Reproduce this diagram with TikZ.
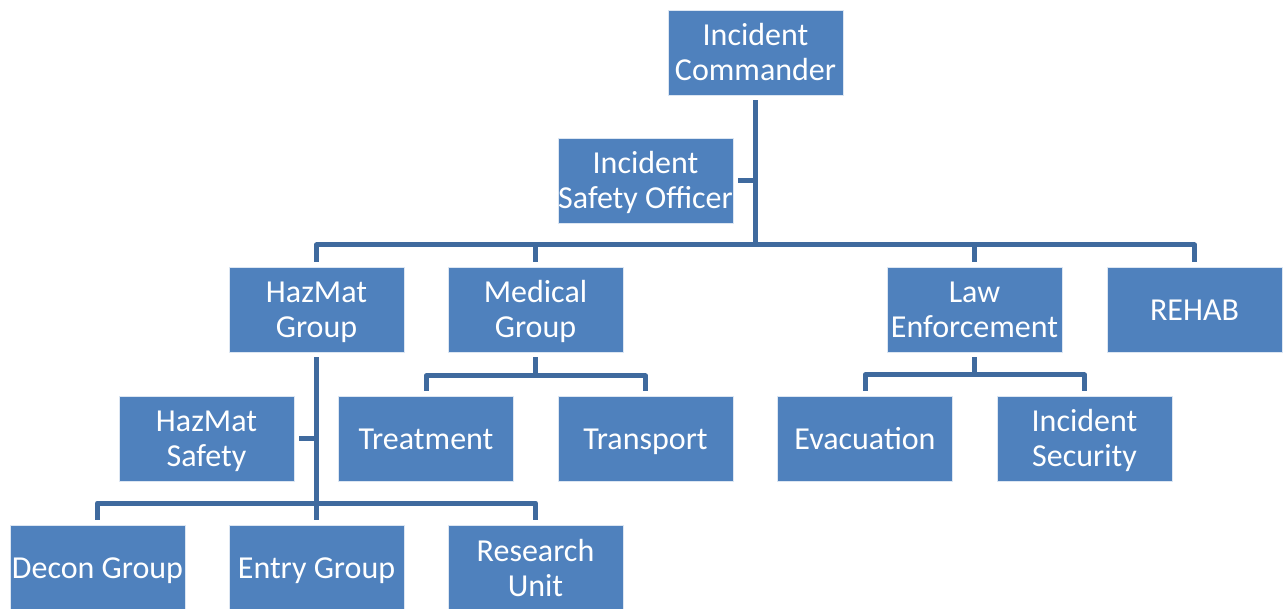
\documentclass[tikz,border=0pt]{standalone}
\usepackage{fontspec}
\setmainfont{Carlito}
\definecolor{boxblue}{HTML}{4F81BD}
\definecolor{linkblue}{HTML}{3F6A9E}
\newcommand{\tstrut}{\rule[-6.5pt]{0pt}{35pt}}
\begin{document}
\begin{tikzpicture}[x=1pt,y=-1pt,
  box/.style={fill=boxblue, draw=white!80!boxblue, line width=0.6pt,
    minimum width=175pt, minimum height=85pt, inner sep=0pt, text=white,
    align=center, font=\fontsize{32}{35}\selectfont},
  link/.style={draw=linkblue, line width=5pt, line join=round}]
\useasboundingbox (0,0) rectangle (1283,609);
\fill[white] (0,0) rectangle (1283,609);
% nodes
\node[box] (ic) at (755.5,52.5) {\tstrut Incident\\\tstrut Commander};
\node[box] (iso) at (645.5,180.5) {\tstrut Incident\\\tstrut Safety Officer};
\node[box] (hg) at (316.5,309.5) {\tstrut HazMat\\\tstrut Group};
\node[box] (mg) at (535.5,309.5) {\tstrut Medical\\\tstrut Group};
\node[box] (le) at (974.5,309.5) {\tstrut Law\\\tstrut Enforcement};
\node[box] (rh) at (1194.5,309.5) {\tstrut REHAB};
\node[box] (hs) at (206.5,438.5) {\tstrut HazMat\\\tstrut Safety};
\node[box] (tr) at (426,438.5) {\tstrut Treatment};
\node[box] (tp) at (645.5,438.5) {\tstrut Transport};
\node[box] (ev) at (865,438.5) {\tstrut Evacuation};
\node[box] (is) at (1084.5,438.5) {\tstrut Incident\\\tstrut Security};
\node[box] (dg) at (97.5,567.5) {\tstrut Decon Group};
\node[box] (eg) at (316.5,567.5) {\tstrut Entry Group};
\node[box] (ru) at (535.5,567.5) {\tstrut Research\\\tstrut Unit};
% bus coordinates
\coordinate (bus) at (755.5,245);
\coordinate (mbus) at (535.5,376);
\coordinate (lbus) at (974.5,375);
\coordinate (hbus) at (316.5,503);
% connectors
\draw[link] ([yshift=-5pt]ic.south) -- (ic.south |- bus);
\draw[link] ([xshift=5pt]iso.east) -- (ic.south |- iso.east);
\draw[link] ([yshift=5pt]hg.north) -- (hg.north |- bus) -- (rh.north |- bus) -- ([yshift=5pt]rh.north);
\draw[link] (mg.north |- bus) -- ([yshift=5pt]mg.north);
\draw[link] (le.north |- bus) -- ([yshift=5pt]le.north);
% medical
\draw[link] ([yshift=-5pt]mg.south) -- (mg.south |- mbus);
\draw[link] ([yshift=5pt]tr.north) -- (tr.north |- mbus) -- (tp.north |- mbus) -- ([yshift=5pt]tp.north);
% law
\draw[link] ([yshift=-5pt]le.south) -- (le.south |- lbus);
\draw[link] ([yshift=5pt]ev.north) -- (ev.north |- lbus) -- (is.north |- lbus) -- ([yshift=5pt]is.north);
% hazmat
\draw[link] ([yshift=-5pt]hg.south) -- ([yshift=5pt]eg.north);
\draw[link] ([xshift=5pt]hs.east) -- (hg.south |- hs.east);
\draw[link] ([yshift=5pt]dg.north) -- (dg.north |- hbus) -- (ru.north |- hbus) -- ([yshift=5pt]ru.north);
\end{tikzpicture}
\end{document}
